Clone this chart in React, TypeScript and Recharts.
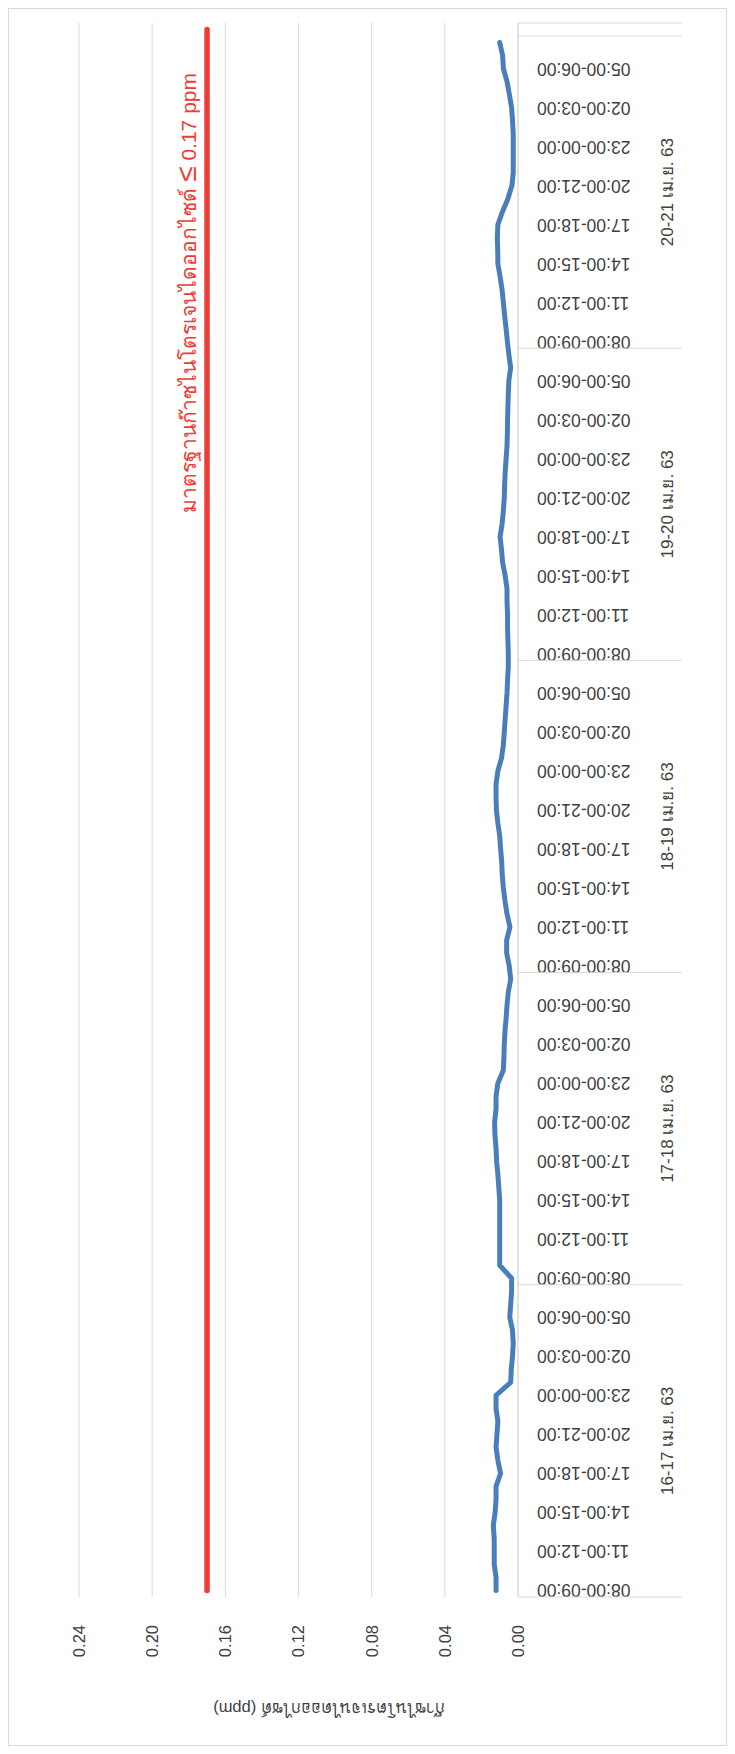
import { LineChart, Line, XAxis, YAxis, CartesianGrid, Customized } from "recharts";

// hourly slots of one measuring day (08:00 -> 08:00 next day)
const hours = [
  "08:00-09:00", "09:00-10:00", "10:00-11:00", "11:00-12:00", "12:00-13:00", "13:00-14:00",
  "14:00-15:00", "15:00-16:00", "16:00-17:00", "17:00-18:00", "18:00-19:00", "19:00-20:00",
  "20:00-21:00", "21:00-22:00", "22:00-23:00", "23:00-00:00", "00:00-01:00", "01:00-02:00",
  "02:00-03:00", "03:00-04:00", "04:00-05:00", "05:00-06:00", "06:00-07:00", "07:00-08:00",
];
const days = ["16-17 เม.ย. 63", "17-18 เม.ย. 63", "18-19 เม.ย. 63", "19-20 เม.ย. 63", "20-21 เม.ย. 63"];

const no2Day1 = [0.012, 0.012, 0.013, 0.013, 0.013, 0.0135, 0.0125, 0.012, 0.012, 0.0095, 0.011, 0.012,
  0.0115, 0.011, 0.012, 0.012, 0.004, 0.0037, 0.003, 0.0026, 0.003, 0.0045, 0.004, 0.0035];
const no2Day2 = [0.0035, 0.010, 0.010, 0.010, 0.010, 0.010, 0.010, 0.0105, 0.011, 0.0117, 0.012, 0.0126,
  0.0128, 0.012, 0.012, 0.011, 0.008, 0.0077, 0.0075, 0.0071, 0.0065, 0.006, 0.0053, 0.004];
const no2Day3 = [0.0048, 0.0062, 0.0062, 0.0044, 0.006, 0.0071, 0.008, 0.0086, 0.0089, 0.0095, 0.010, 0.011,
  0.0118, 0.012, 0.012, 0.011, 0.009, 0.008, 0.0075, 0.007, 0.0065, 0.006, 0.0057, 0.0053];
const no2Day4 = [0.0053, 0.0055, 0.0057, 0.0057, 0.006, 0.006, 0.007, 0.0084, 0.009, 0.0098, 0.0087, 0.008,
  0.0075, 0.0073, 0.007, 0.0065, 0.006, 0.0058, 0.0057, 0.0055, 0.0053, 0.005, 0.004, 0.005];
const no2Day5 = [0.0058, 0.0065, 0.0073, 0.008, 0.0087, 0.0098, 0.011, 0.0111, 0.0113, 0.011, 0.0085, 0.0055,
  0.0033, 0.0026, 0.0026, 0.0026, 0.0026, 0.003, 0.0035, 0.0047, 0.006, 0.008, 0.0084, 0.010];
const no2ByDay = [no2Day1, no2Day2, no2Day3, no2Day4, no2Day5];

const standardNO2 = 0.17;
const valueTicks = [0, 0.04, 0.08, 0.12, 0.16, 0.2, 0.24];

const rows: { slot: number; time: string; day: string; no2: number | null; std: number }[] = [];
days.forEach((day, d) => {
  hours.forEach((time, h) => {
    rows.push({ slot: rows.length, time, day, no2: no2ByDay[d][h], std: standardNO2 });
  });
});
// trailing empty slot (standard line runs one slot further)
rows.push({ slot: rows.length, time: "", day: "", no2: null, std: standardNO2 });

const W = 1736;
const H = 717;
const MARGIN = { top: 70, right: 14, bottom: 38, left: 88 };
const Y_AXIS_W = 60;
const X_AXIS_H = 170;
const PLOT_W = W - MARGIN.left - MARGIN.right - Y_AXIS_W;
const BAND = PLOT_W / rows.length;
const FONT = '"Liberation Sans", Arial, "Noto Sans", sans-serif';
const TEXT = "#404040";
const GRID = "#d9d9d9";
const RED = "#ef3b36";

function SlotTick(props: any) {
  const { x, y, payload } = props;
  const i = payload.value as number;
  const row = rows[i];
  if (!row) return null;
  const half = BAND / 2;
  const ty = y + 19;
  return (
    <g>
      {i % 3 === 0 && row.time && (
        <text x={x} y={ty} transform={`rotate(-90, ${x}, ${ty})`} textAnchor="end"
          dominantBaseline="central" fontSize={17.5} fill={TEXT} fontFamily={FONT}>
          {row.time}
        </text>
      )}
      {i % 24 === 0 && <line x1={x - half} x2={x - half} y1={y} y2={y + 164} stroke={GRID} />}
      {i === rows.length - 1 && <line x1={x + half} x2={x + half} y1={y} y2={y + 164} stroke={GRID} />}
      {i % 24 === 12 && (
        <text x={x - half} y={y + 155} textAnchor="middle" fontSize={17} fill={TEXT} fontFamily={FONT}>
          {row.day}
        </text>
      )}
    </g>
  );
}

function Notes() {
  return (
    <g fontFamily={FONT}>
      <text x={36} y={320} transform="rotate(-90, 36, 320)" textAnchor="middle"
        dominantBaseline="central" fontSize={16.5} fill={TEXT}>
        ก๊าซไนโตรเจนไดออกไซด์ (ppm)
      </text>
      <text x={1672} y={187} textAnchor="end" fontSize={21} fill={RED}>
        มาตรฐานก๊าซไนโตรเจนไดออกไซด์ <tspan fontSize={28}>≤</tspan> 0.17 ppm
      </text>
    </g>
  );
}

export default function App() {
  return (
    <div style={{ width: H, height: W, border: `1px solid ${GRID}`, position: "relative", overflow: "hidden", background: "#fff", fontFamily: FONT }}>
      <div style={{ position: "absolute", left: 0, top: 0, width: W, height: H, transform: `translateY(${W}px) rotate(-90deg)`, transformOrigin: "0 0" }}>
        <LineChart width={W} height={H} data={rows} margin={MARGIN}>
          <CartesianGrid vertical={false} stroke={GRID} />
          <XAxis dataKey="slot" type="number" domain={[-0.5, rows.length - 0.5]}
            ticks={rows.map((r) => r.slot)} interval={0} height={X_AXIS_H}
            tickSize={0} tickMargin={0} tickLine={false} axisLine={{ stroke: GRID }}
            tick={(p: any) => <SlotTick {...p} />} />
          <YAxis type="number" domain={[0, 0.24]} ticks={valueTicks} width={Y_AXIS_W}
            tickFormatter={(v: number) => v.toFixed(2)} axisLine={false} tickLine={false}
            tickMargin={22} tick={{ fontSize: 16.5, fill: TEXT, fontFamily: FONT }} />
          <Line dataKey="std" stroke={RED} strokeWidth={5.5} strokeLinecap="round" dot={false} isAnimationActive={false} />
          <Line dataKey="no2" stroke="#4a7ebb" strokeWidth={5} strokeLinecap="round" strokeLinejoin="round" dot={false} isAnimationActive={false} />
          <Customized component={Notes} />
        </LineChart>
      </div>
    </div>
  );
}
